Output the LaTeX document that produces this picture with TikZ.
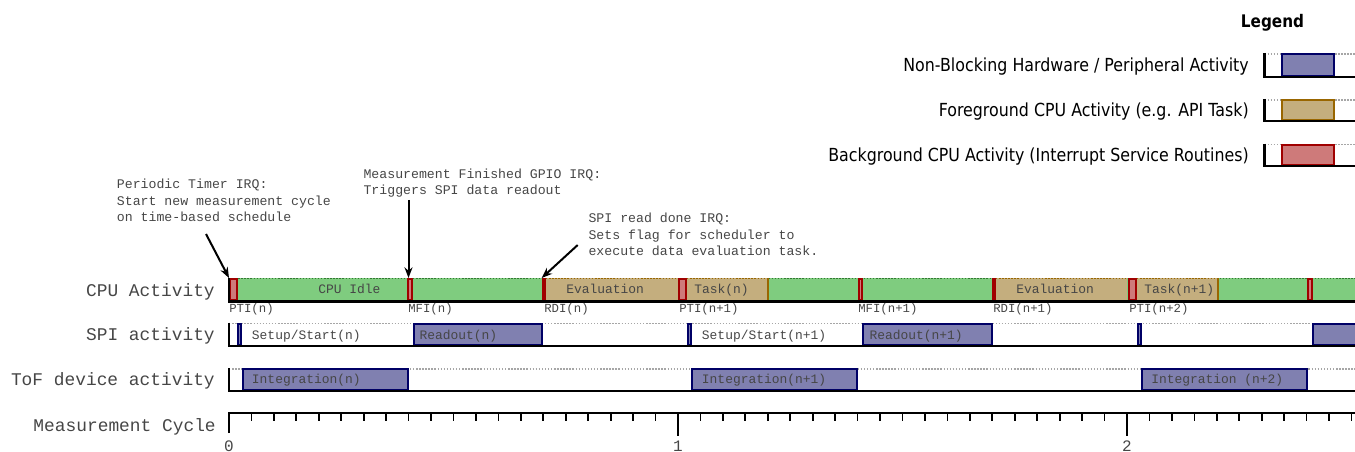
\documentclass[tikz,border=0pt]{standalone}
\usepackage{fontspec}
\newfontfamily\mono{Liberation Mono}
\newfontfamily\legfont[FakeStretch=0.88]{DejaVu Sans}
\usetikzlibrary{arrows.meta}
\definecolor{idlegreen}{RGB}{127,204,127}
\definecolor{idleedge}{RGB}{50,120,50}
\definecolor{fgfill}{RGB}{196,174,126}
\definecolor{fgedge}{RGB}{153,102,0}
\definecolor{bgfill}{RGB}{206,122,122}
\definecolor{bgedge}{RGB}{160,0,0}
\definecolor{hwfill}{RGB}{128,128,176}
\definecolor{hwedge}{RGB}{0,0,102}
\definecolor{txt}{RGB}{70,70,70}
\tikzset{
  rowlabel/.style={anchor=base east, inner sep=0pt, text=txt, font=\mono\fontsize{13.4}{16}\selectfont},
  annot/.style={anchor=base west, inner sep=0pt, text=txt, font=\mono\fontsize{9.9}{12}\selectfont},
  boxlabel/.style={anchor=base west, inner sep=0pt, text=txt, font=\mono\fontsize{9.7}{12}\selectfont},
  evlabel/.style={anchor=base west, inner sep=0pt, text=txt, font=\mono\fontsize{9.25}{11}\selectfont},
  axlabel/.style={anchor=base, inner sep=0pt, text=txt, font=\mono\fontsize{12}{14}\selectfont},
  leglabel/.style={anchor=base east, inner sep=0pt, text=black, font=\legfont\fontsize{13.5}{16}\selectfont},
  lowtop/.style={draw=gray!70, line width=1.1pt, dash pattern=on 1.1pt off 1.2pt},
  idletop/.style={draw=idleedge, line width=1.1pt, dash pattern=on 1.1pt off 1.2pt},
  fgtop/.style={draw=fgedge, line width=1.1pt, dash pattern=on 1.1pt off 1.2pt},
  baseln/.style={draw=black, line width=1.6pt},
  hwbox/.style={draw=hwedge, fill=hwfill, line width=1.5pt},
  fgbox/.style={draw=fgedge, fill=fgfill, line width=1.5pt},
  bgbox/.style={draw=bgedge, fill=bgfill, line width=1.5pt},
  arr/.style={draw=black, line width=1.5pt, -{Stealth[length=8pt,width=6pt]}},
  tick/.style={draw=black, line width=1.3pt}
}
\begin{document}
\begin{tikzpicture}[x=0.75pt,y=-0.75pt]
\path[use as bounding box] (0,0) rectangle (1355,452);
\clip (0,0) rectangle (1355,452);

% ---------------- Legend ----------------
\node[anchor=base, inner sep=0pt, font=\legfont\bfseries\fontsize{13}{15}\selectfont] (legtitle) at (1272.5,27.5) {Legend};
\node[leglabel] (leg1) at (1249,71.5) {Non-Blocking Hardware / Peripheral Activity};
\node[leglabel] (leg2) at (1249,116.5) {Foreground CPU Activity (e.g. API Task)};
\node[leglabel] (leg3) at (1249,161.5) {Background CPU Activity (Interrupt Service Routines)};
% icon 1
\draw[lowtop] (1264.5,53.8) -- (1355,53.8);
\draw[hwbox] (1281.7,54.3) rectangle (1334.3,75.7);
\draw[baseln] (1264.5,53) -- (1264.5,76.7) -- (1355,76.7);
% icon 2
\draw[lowtop] (1264.5,99.8) -- (1355,99.8);
\draw[fgbox] (1281.7,100.3) rectangle (1334.3,119.7);
\draw[baseln] (1264.5,99) -- (1264.5,120.7) -- (1355,120.7);
% icon 3
\draw[lowtop] (1264.5,144.5) -- (1355,144.5);
\draw[bgbox] (1281.7,145) rectangle (1334.3,165);
\draw[baseln] (1264.5,143.7) -- (1264.5,166) -- (1355,166);

% ---------------- Row labels ----------------
\node[rowlabel] (lcpu) at (215,296) {CPU Activity};
\node[rowlabel] (lspi) at (215,340) {SPI activity};
\node[rowlabel] (ltof) at (215,385) {ToF device activity};
\node[rowlabel] (lcyc) at (216,431.5) {Measurement Cycle};

% ---------------- CPU row ----------------
\fill[idlegreen] (229,278) rectangle (1355,301);
\draw[idletop] (229,278.5) -- (1355,278.5);
% foreground tasks
\fill[fgfill] (546,278) rectangle (678,301);
\fill[fgfill] (996,278) rectangle (1127,301);
\fill[fgfill] (687,278) rectangle (768,301);
\fill[fgfill] (1137,278) rectangle (1218,301);
\draw[fgtop] (546,278.5) -- (678,278.5);
\draw[fgtop] (996,278.5) -- (1127,278.5);
\draw[fgtop] (687,278.5) -- (768,278.5);
\draw[fgtop] (1137,278.5) -- (1218,278.5);
\draw[draw=fgedge, line width=1.5pt] (768,278) -- (768,301);
\draw[draw=fgedge, line width=1.5pt] (1218,278) -- (1218,301);
% ISRs: PTI
\draw[bgbox] (230,279) rectangle (237,300);
\draw[bgbox] (678.7,279) rectangle (686.3,300);
\draw[bgbox] (1128.7,279) rectangle (1136.3,300);
% ISRs: MFI
\draw[bgbox] (408.3,279) rectangle (412.3,300);
\draw[bgbox] (858.7,279) rectangle (862.3,300);
\draw[bgbox] (1308,279) rectangle (1312,300);
% ISRs: RDI
\fill[bgedge] (541.7,278) rectangle (546,301);
\fill[bgedge] (991.7,278) rectangle (996,301);
\draw[baseln] (228.7,277.5) -- (228.7,301.5) -- (1355,301.5);

\node[boxlabel] (tidle) at (318,293.5) {CPU Idle};
\node[boxlabel] (teval1) at (566,293.5) {Evaluation};
\node[boxlabel] (ttask1) at (694,293.5) {Task(n)};
\node[boxlabel] (teval2) at (1016,293.5) {Evaluation};
\node[boxlabel] (ttask2) at (1144,293.5) {Task(n+1)};

\node[evlabel] (epti1) at (229,312) {PTI(n)};
\node[evlabel] (emfi1) at (408,312) {MFI(n)};
\node[evlabel] (erdi1) at (544,312) {RDI(n)};
\node[evlabel] (epti2) at (679,312) {PTI(n+1)};
\node[evlabel] (emfi2) at (858,312) {MFI(n+1)};
\node[evlabel] (erdi2) at (993,312) {RDI(n+1)};
\node[evlabel] (epti3) at (1129,312) {PTI(n+2)};

% ---------------- SPI row ----------------
\draw[lowtop] (229,323.5) -- (1355,323.5);
\draw[hwbox] (238.3,323.7) rectangle (240.7,345);
\draw[hwbox] (413.7,323.7) rectangle (542,345);
\draw[hwbox] (687.7,323.7) rectangle (690.7,345);
\draw[hwbox] (862.7,323.7) rectangle (992,345);
\draw[hwbox] (1137.7,323.7) rectangle (1140.7,345);
\draw[hwbox] (1312.7,323.7) rectangle (1365,345);
\draw[baseln] (229,322.7) -- (229,346) -- (1355,346);

\node[boxlabel] (tsetup1) at (251.7,339) {Setup/Start(n)};
\node[boxlabel] (tread1) at (419.3,339) {Readout(n)};
\node[boxlabel] (tsetup2) at (701.7,339) {Setup/Start(n+1)};
\node[boxlabel] (tread2) at (869.3,339) {Readout(n+1)};

% ---------------- ToF row ----------------
\draw[lowtop] (229,369) -- (1355,369);
\draw[hwbox] (242.7,369.3) rectangle (408,390);
\draw[hwbox] (692,369.3) rectangle (857,390);
\draw[hwbox] (1142,369.3) rectangle (1307,390);
\draw[baseln] (229,368.3) -- (229,391) -- (1355,391);

\node[boxlabel] (tint1) at (251.7,383.5) {Integration(n)};
\node[boxlabel] (tint2) at (701.7,383.5) {Integration(n+1)};
\node[boxlabel] (tint3) at (1151,383.5) {Integration (n+2)};

% ---------------- Axis ----------------
\draw[baseln] (229,433) -- (229,413.3) -- (1355,413.3);
\foreach \i in {1,...,50}{
  \draw[tick] ({229+22.45*\i},413.3) -- ({229+22.45*\i},421);
}
\draw[tick] (678,413.3) -- (678,436);
\draw[tick] (1127,413.3) -- (1127,436);
\node[axlabel] (ax0) at (229,451) {0};
\node[axlabel] (ax1) at (678,451) {1};
\node[axlabel] (ax2) at (1127,451) {2};

% ---------------- Annotations ----------------
\node[annot] (n1a) at (116.7,189) {Periodic Timer IRQ:};
\node[annot] (n1b) at (116.7,205.5) {Start new measurement cycle};
\node[annot] (n1c) at (116.7,222) {on time-based schedule};
\node[annot] (n2a) at (363.3,178.3) {Measurement Finished GPIO IRQ:};
\node[annot] (n2b) at (363.3,194.5) {Triggers SPI data readout};
\node[annot] (n3a) at (588.3,223) {SPI read done IRQ:};
\node[annot] (n3b) at (588.3,239.5) {Sets flag for scheduler to};
\node[annot] (n3c) at (588.3,256) {execute data evaluation task.};

\coordinate (s1) at (206,234);
\coordinate (t1) at (229,278);
\coordinate (s2) at (408.5,200);
\coordinate (t2) at (408.5,278);
\coordinate (s3) at (577.7,245);
\coordinate (t3) at (541.7,278);
\draw[arr] (s1) -- (t1);
\draw[arr] (s2) -- (t2);
\draw[arr] (s3) -- (t3);
\end{tikzpicture}
\end{document}
